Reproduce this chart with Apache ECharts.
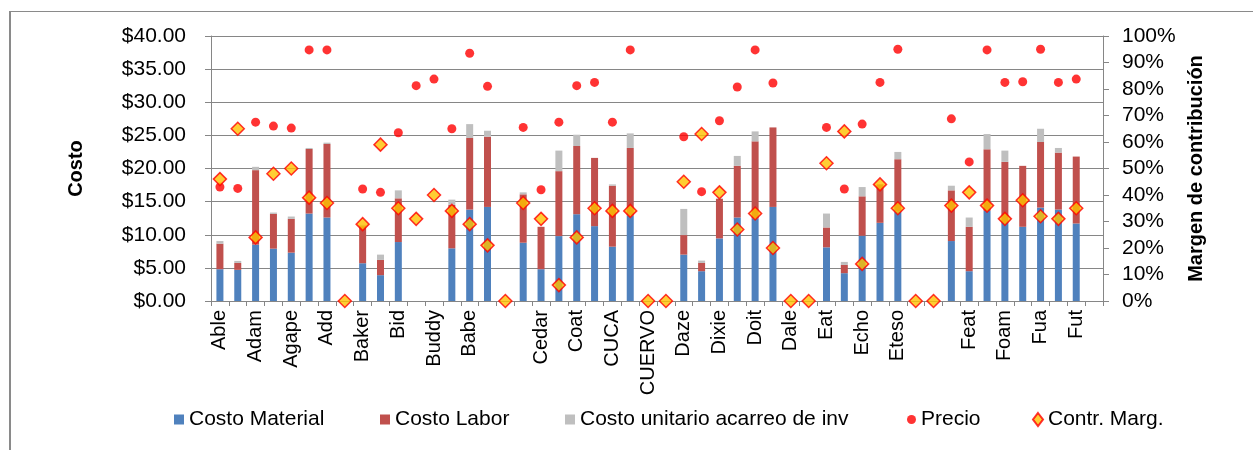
<!DOCTYPE html>
<html>
<head>
<meta charset="utf-8">
<script src="https://cdn.jsdelivr.net/npm/echarts@6/dist/echarts.min.js"></script>
<style>
  html, body { margin: 0; padding: 0; background: #fff; }
  #main { width: 1253px; height: 450px; }
</style>
</head>
<body>
<div id="main"></div>
<script>
// etiquetas: solo se ven las pares
let categories = [
  'Able', '', 'Adam', '', 'Agape', '', 'Add', '', 'Baker', '',
  'Bid', '', 'Buddy', '', 'Babe', '', '', '', 'Cedar', '',
  'Coat', '', 'CUCA', '', 'CUERVO', '', 'Daze', '', 'Dixie', '',
  'Doit', '', 'Dale', '', 'Eat', '', 'Echo', '', 'Eteso', '',
  '', '', 'Feat', '', 'Foam', '', 'Fua', '', 'Fut', ''
];

let costoMaterial = [
  4.8, 4.7, 8.5, 7.9, 7.3, 13.2, 12.6, null, 5.7, 3.9,
  8.9, null, null, 7.95, 13.8, 14.2, null, 8.8, 4.8, 9.8,
  13.1, 11.3, 8.2, 12.9, null, null, 7.0, 4.5, 9.45, 12.6,
  12.5, 14.2, null, null, 8.1, 4.2, 9.85, 11.8, 13.5, null,
  null, 9.05, 4.5, 13.6, 11.8, 11.2, 14.1, 13.8, 11.7, null
];

let costoLabor = [
  3.85, 1.05, 11.25, 5.25, 5.1, 9.75, 11.1, null, 5.6, 2.3,
  6.6, null, null, 6.55, 10.8, 10.6, null, 7.3, 6.4, 9.8,
  10.3, 10.3, 9.2, 10.2, null, null, 2.95, 1.25, 5.95, 7.8,
  11.6, 12.0, null, null, 3.0, 1.25, 5.95, 5.8, 7.9, null,
  null, 7.65, 6.7, 9.3, 9.2, 9.2, 9.9, 8.6, 10.1, null
];

let costoAcarreo = [
  0.4, 0.3, 0.5, 0.2, 0.35, 0.15, 0.2, null, 0.2, 0.8,
  1.2, null, null, 0.8, 2.1, 0.9, null, 0.3, 0, 3.1,
  1.7, 0, 0.2, 2.2, null, null, 3.95, 0.35, 0.1, 1.5,
  1.5, 0, null, null, 2.1, 0.45, 1.4, 0, 1.1, null,
  null, 0.7, 1.4, 2.3, 1.7, 0, 2.0, 0.7, 0, null
];

let precio = [
  17.2, 17.0, 27.0, 26.4, 26.1, 37.9, 37.9, null, 16.9, 16.4,
  25.4, 32.5, 33.5, 26.0, 37.4, 32.4, null, 26.2, 16.8, 27.0,
  32.5, 33.0, 27.0, 37.9, null, null, 24.8, 16.5, 27.2, 32.3,
  37.9, 32.9, null, null, 26.2, 16.9, 26.7, 33.0, 38.0, null,
  null, 27.5, 21.0, 37.9, 33.0, 33.1, 38.0, 33.0, 33.5, null
];

// porcentaje
let contrMarg = [
  46, 65, 24, 48, 50, 39, 37, 0, 29, 59,
  35, 31, 40, 34, 29, 21, 0, 37, 31, 6,
  24, 35, 34, 34, 0, 0, 45, 63, 41, 27,
  33, 20, 0, 0, 52, 64, 14, 44, 35, 0,
  0, 36, 41, 36, 31, 38, 32, 31, 35, null
];

let font = "'Liberation Sans', Arial, sans-serif";
let axisGray = '#868686';

function legendItem(name, left, icon, w, h) {
  return {
    data: [{ name: name, icon: icon }],
    left: left,
    top: 409,
    padding: 0,
    itemWidth: w,
    itemHeight: h,
    selectedMode: false,
    textStyle: { fontSize: 21, color: '#000', fontFamily: font }
  };
}

let option = {
  animation: false,
  textStyle: { fontFamily: font },
  color: ['#4F81BD', '#C0504D', '#BFBFBF', '#FF0000', '#FFC000'],
  grid: {
    left: 211,
    right: 150,
    top: 36,
    bottom: 149
  },
  legend: [
    legendItem('Costo Material', 174, 'rect', 10, 10),
    legendItem('Costo Labor', 380, 'rect', 10, 10),
    legendItem('Costo unitario acarreo de inv', 565, 'rect', 10, 10),
    legendItem('Precio', 907, 'circle', 9, 10),
    legendItem('Contr. Marg.', 1032, 'diamond', 10, 13)
  ],
  graphic: [
    { type: 'line', shape: { x1: 9, y1: 11.5, x2: 1253, y2: 11.5 }, style: { stroke: '#8a8a8a', lineWidth: 1 } },
    { type: 'line', shape: { x1: 10, y1: 11, x2: 10, y2: 450 }, style: { stroke: '#8a8a8a', lineWidth: 2 } }
  ],
  xAxis: {
    type: 'category',
    data: categories,
    boundaryGap: true,
    axisLine: { lineStyle: { color: axisGray, width: 1 } },
    axisTick: { show: true, interval: 0, length: 5, lineStyle: { color: axisGray } },
    axisLabel: {
      interval: 1,
      rotate: 90,
      margin: 9,
      fontSize: 20,
      color: '#000',
      fontFamily: font
    }
  },
  yAxis: [{
    type: 'value',
    name: 'Costo',
    nameLocation: 'middle',
    nameRotate: 90,
    nameGap: 125,
    nameTextStyle: { fontSize: 20, fontWeight: 'bold', color: '#000', fontFamily: font },
    min: 0,
    max: 40,
    interval: 5,
    axisLine: { show: true, lineStyle: { color: axisGray } },
    axisTick: { show: true, length: 6, lineStyle: { color: axisGray } },
    axisLabel: {
      fontSize: 21,
      color: '#000',
      margin: 25,
      fontFamily: font,
      formatter: function (v) { return '$' + v.toFixed(2); }
    },
    splitLine: { show: true, lineStyle: { color: axisGray, width: 1 } }
  }, {
    type: 'value',
    name: 'Margen de contribución',
    nameLocation: 'middle',
    nameRotate: 90,
    nameGap: 82,
    nameTextStyle: { fontSize: 20, fontWeight: 'bold', color: '#000', fontFamily: font },
    min: 0,
    max: 100,
    interval: 10,
    axisLine: { show: true, lineStyle: { color: axisGray } },
    axisTick: { show: true, length: 6, lineStyle: { color: axisGray } },
    axisLabel: {
      fontSize: 21,
      color: '#000',
      margin: 19,
      fontFamily: font,
      formatter: '{value}%'
    },
    splitLine: { show: false }
  }],
  series: [{
    name: 'Costo Material',
    type: 'bar',
    stack: 'costo',
    barWidth: 7,
    data: costoMaterial
  }, {
    name: 'Costo Labor',
    type: 'bar',
    stack: 'costo',
    barWidth: 7,
    data: costoLabor
  }, {
    name: 'Costo unitario acarreo de inv',
    type: 'bar',
    stack: 'costo',
    barWidth: 7,
    data: costoAcarreo
  }, {
    name: 'Precio',
    type: 'scatter',
    symbol: 'circle',
    symbolSize: 9,
    itemStyle: { color: '#FF0000' },
    z: 3,
    data: precio
  }, {
    name: 'Contr. Marg.',
    type: 'scatter',
    yAxisIndex: 1,
    symbol: 'diamond',
    symbolSize: [13, 13],
    itemStyle: { color: '#FFC000', borderColor: '#FF0000', borderWidth: 1.5 },
    z: 4,
    data: contrMarg
  }]
};

let chart = echarts.init(document.getElementById('main'), null, { renderer: 'canvas' });
chart.setOption(option);
</script>
</body>
</html>
